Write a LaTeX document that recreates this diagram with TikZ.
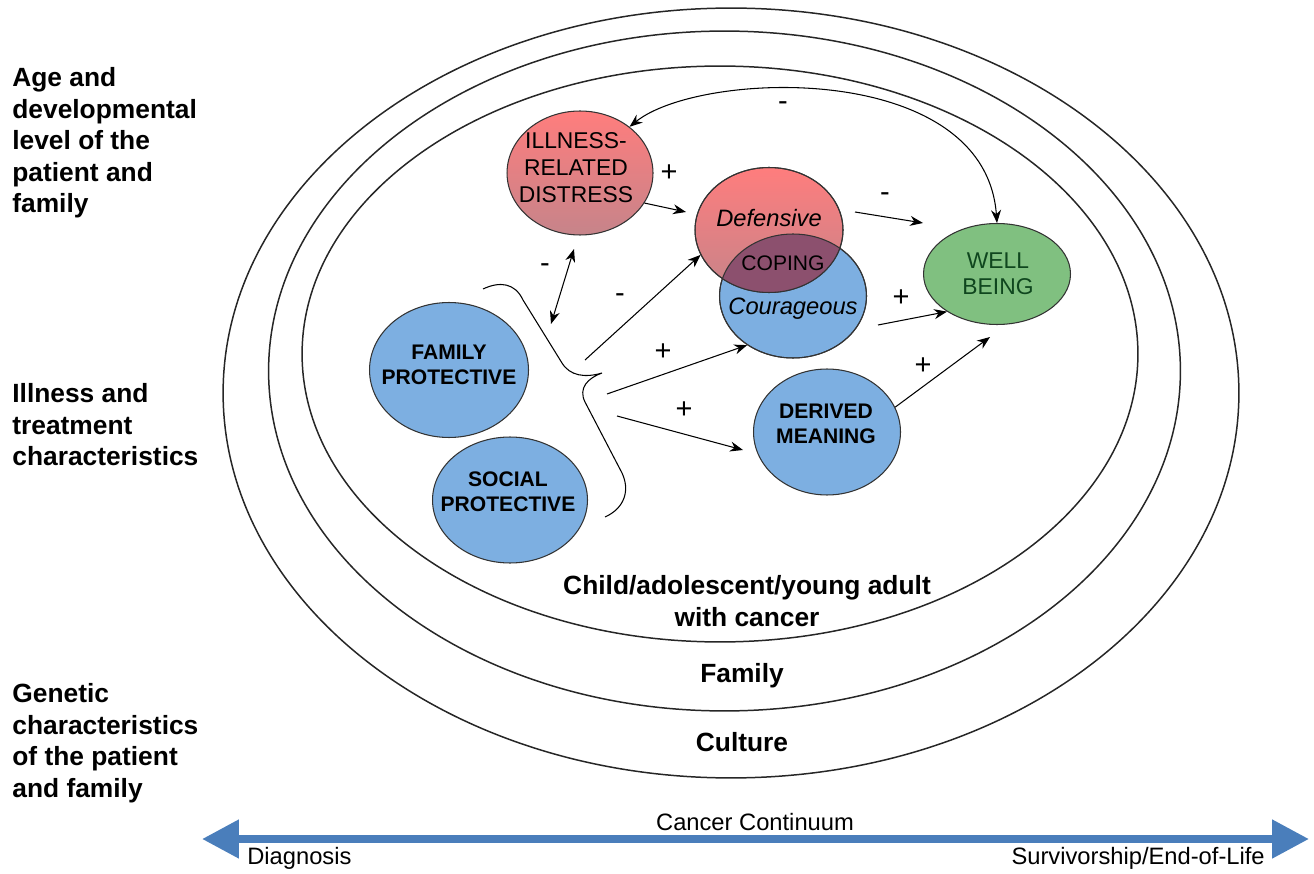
\documentclass[tikz,border=0pt]{standalone}
\usepackage{fontspec}
\setmainfont{Liberation Sans}
\usetikzlibrary{shapes.geometric,arrows.meta,calc}

\definecolor{redtop}{RGB}{255,125,125}
\definecolor{redbot}{RGB}{198,132,138}
\definecolor{bluefill}{RGB}{125,175,225}
\definecolor{greenfill}{RGB}{128,192,128}
\definecolor{overlapc}{RGB}{140,80,110}
\definecolor{wbtext}{RGB}{15,70,30}
\definecolor{axisblue}{RGB}{74,126,187}

\begin{document}
\begin{tikzpicture}[
    x=0.02cm, y=-0.02cm,
    % Node styles
    redcirc/.style={ellipse, draw=black!80, line width=0.6pt, top color=redtop, bottom color=redbot, inner sep=0pt},
    bluecirc/.style={ellipse, draw=black!80, line width=0.6pt, fill=bluefill, inner sep=0pt},
    greencirc/.style={ellipse, draw=black!80, line width=0.6pt, fill=greenfill, inner sep=0pt},
    % Texts
    sidetxt/.style={font=\bfseries\fontsize{15}{18}\selectfont, align=left, inner sep=0pt, anchor=north west},
    ringtxt/.style={font=\bfseries\fontsize{15}{18}\selectfont, align=center, inner sep=0pt},
    captxt/.style={font=\bfseries\fontsize{12}{14.5}\selectfont, align=center, inner sep=0pt},
    plaintxt/.style={font=\fontsize{13}{15.4}\selectfont, align=center, inner sep=0pt},
    signtxt/.style={font=\fontsize{16.5}{16.5}\selectfont, inner sep=0pt},
    axistxt/.style={font=\fontsize{13.5}{16}\selectfont, inner sep=0pt},
    % Connectors
    arr/.style={line width=0.6pt, -{Stealth[length=2.6mm, width=2mm]}},
    darr/.style={line width=0.6pt, {Stealth[length=2.6mm, width=2mm]}-{Stealth[length=2.6mm, width=2mm]}},
    ring/.style={line width=0.85pt, draw=black!85}
]
    \useasboundingbox (0,0) rectangle (1314,874);

    % =========================================================================
    % 1. LEFT SIDE: CONTEXT TEXTS
    % =========================================================================
    \node[sidetxt] (age) at (12,67) {Age and\\developmental\\level of the\\patient and\\family};
    \node[sidetxt] (ill) at (12,383) {Illness and\\treatment\\characteristics};
    \node[sidetxt] (gen) at (12,683) {Genetic\\characteristics\\of the patient\\and family};

    % =========================================================================
    % 2. NESTED RINGS: CULTURE, FAMILY, CHILD
    % =========================================================================
    \draw[ring] (731,393) ellipse [x radius=10.16cm, y radius=7.7cm];
    \draw[ring] (724.5,371) ellipse [x radius=9.12cm, y radius=6.8cm];
    \draw[ring] (720,354) ellipse [x radius=8.36cm, y radius=5.76cm];

    \node[ringtxt] (child) at (747,601) {Child/adolescent/young adult\\with cancer};
    \node[ringtxt] (fam-ring) at (742,676) {Family};
    \node[ringtxt] (cult) at (742,742) {Culture};

    % =========================================================================
    % 3. MODEL NODES
    % =========================================================================
    \node[redcirc, minimum width=2.92cm, minimum height=2.48cm] (ird) at (580,173) {};
    \node[plaintxt] (irdtxt) at (576,168) {ILLNESS-\\RELATED\\DISTRESS};

    % --- Coping: defensive / courageous overlap ---
    \node[bluecirc, minimum width=2.94cm, minimum height=2.48cm] (cou) at (793,296) {};
    \node[redcirc, minimum width=2.96cm, minimum height=2.5cm] (def) at (769,230) {};
    \begin{scope}
        \clip (793,296) ellipse [x radius=1.47cm, y radius=1.24cm];
        \fill[overlapc] (769,230) ellipse [x radius=1.48cm, y radius=1.25cm];
    \end{scope}
    \draw[line width=0.6pt, black!80] (793,296) ellipse [x radius=1.47cm, y radius=1.24cm];
    \draw[line width=0.6pt, black!80] (769,230) ellipse [x radius=1.48cm, y radius=1.25cm];
    \node[font=\itshape\fontsize{13.5}{16}\selectfont, inner sep=0pt] (deftxt) at (769,218) {Defensive};
    \node[font=\fontsize{12}{14}\selectfont, inner sep=0pt] (coptxt) at (783,263) {COPING};
    \node[font=\itshape\fontsize{13.5}{16}\selectfont, inner sep=0pt] (coutxt) at (793,309) {Courageous};

    \node[greencirc, minimum width=2.94cm, minimum height=2.02cm] (wb) at (997,274) {};
    \node[plaintxt, text=wbtext, font=\fontsize{13}{14.8}\selectfont] (wbtxt) at (998,274) {WELL\\BEING};

    \node[bluecirc, minimum width=3.18cm, minimum height=2.7cm] (fam) at (449,370) {};
    \node[captxt] (famtxt) at (449,365) {FAMILY\\PROTECTIVE};
    \node[bluecirc, minimum width=3.1cm, minimum height=2.52cm] (soc) at (510,500) {};
    \node[captxt] (soctxt) at (508,492) {SOCIAL\\PROTECTIVE};
    \node[bluecirc, minimum width=2.94cm, minimum height=2.52cm] (der) at (827,432) {};
    \node[captxt] (dertxt) at (826,424) {DERIVED\\MEANING};

    % --- Brace grouping the protective factors ---
    \draw[line width=0.6pt] (483,289) .. controls (500,281) and (515,283) .. (523,300)
        -- (562,363) .. controls (570,376) and (585,378) .. (602,373)
        .. controls (588,378) and (578,388) .. (585,402)
        -- (622,473) .. controls (630,490) and (625,508) .. (605,517);

    % =========================================================================
    % 4. CONNECTORS AND SIGNS
    % =========================================================================
    \coordinate (dTop) at (574,249);
    \coordinate (dBot) at (551,324);
    \coordinate (brA) at (585,360);
    \coordinate (brB) at (607,394);
    \coordinate (brC) at (617,416);
    \coordinate (defIn) at (686,212);
    \coordinate (derIn) at (743,450);
    \coordinate (defOut) at (855,212);
    \coordinate (wbIn) at (923,223);
    \coordinate (couOut) at (878,325);
    \coordinate (wbLow) at (990,337);

    \draw[darr] (wb.north) .. controls (985,60) and (700,70) .. (ird.43);
    \draw[arr] (ird.-25) -- (defIn);
    \draw[darr] (dTop) -- (dBot);
    \draw[arr] (brA) -- (def.200);
    \draw[arr] (brB) -- (cou.227);
    \draw[arr] (brC) -- (derIn);
    \draw[arr] (defOut) -- (wbIn);
    \draw[arr] (couOut) -- (wb.217);
    \draw[arr] (der.20) -- (wbLow);

    \node[signtxt] (s1) at (783,106) {-};
    \node[signtxt] (s2) at (669,173) {+};
    \node[signtxt] (s3) at (545,268) {-};
    \node[signtxt] (s4) at (620,298) {-};
    \node[signtxt] (s5) at (885,197) {-};
    \node[signtxt] (s6) at (901,298) {+};
    \node[signtxt] (s7) at (663,352) {+};
    \node[signtxt] (s8) at (684,410) {+};
    \node[signtxt] (s9) at (923,366) {+};

    % =========================================================================
    % 5. BOTTOM: CANCER CONTINUUM
    % =========================================================================
    \coordinate (axL) at (202,839);
    \coordinate (axR) at (1309,839);
    \draw[line width=0.16cm, axisblue, {Triangle[length=0.74cm,width=0.74cm]}-{Triangle[length=0.74cm,width=0.74cm]}] (axL) -- (axR);
    \node[axistxt] (cc) at (755,822) {Cancer Continuum};
    \node[axistxt, anchor=west] (diag) at (247,858) {Diagnosis};
    \node[axistxt, anchor=east] (surv) at (1265,858) {Survivorship/End-of-Life};

\end{tikzpicture}
\end{document}
